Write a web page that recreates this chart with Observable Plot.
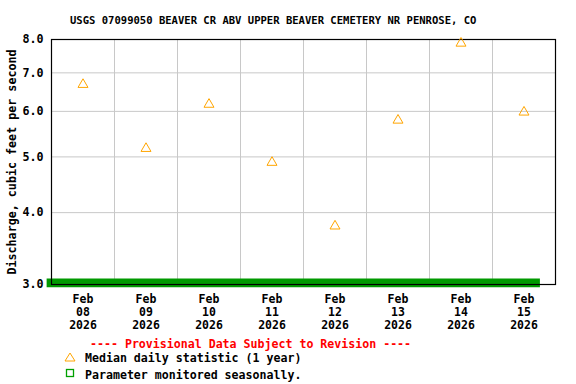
<!DOCTYPE html>
<html>
<head>
<meta charset="utf-8">
<script src="https://cdn.jsdelivr.net/npm/d3@7"></script>
<script src="https://cdn.jsdelivr.net/npm/@observablehq/plot@0.6"></script>
<style>
  html, body { margin: 0; padding: 0; background: white; }
  #wrap { position: relative; width: 576px; height: 384px; overflow: hidden; font-family: "DejaVu Sans Mono", monospace; font-weight: bold; color: black; }
  .abs { position: absolute; white-space: pre; }
  #title { left: 70px; top: 14px; font-size: 10.55px; line-height: 12px; }
  #chart { position: absolute; left: 0; top: 28px; }
  #prov { left: 90px; top: 337.5px; font-size: 11.6px; line-height: 13px; color: #ff0000; }
  .leg { left: 85px; font-size: 11.6px; line-height: 13px; }
  .sym { position: absolute; }
</style>
</head>
<body>
<div id="wrap">
  <div id="title" class="abs"></div>
  <div id="chart"></div>
  <div id="prov" class="abs"></div>
  <svg class="sym" style="left:64px;top:350.5px" width="14" height="12"><polygon points="6,2 11,10 1,10" fill="none" stroke="#ffa500" stroke-width="1"/></svg>
  <div id="leg1" class="abs leg" style="top:352px"></div>
  <svg class="sym" style="left:64px;top:367px" width="14" height="12"><rect x="2.5" y="2.5" width="7" height="7" fill="none" stroke="#00a000" stroke-width="1.3"/></svg>
  <div id="leg2" class="abs leg" style="top:368.5px"></div>
</div>
<script>
// ---- data ----
const titleText = "USGS 07099050 BEAVER CR ABV UPPER BEAVER CEMETERY NR PENROSE, CO";
const yLabel = "Discharge, cubic feet per second";
const days = ["2026-02-08","2026-02-09","2026-02-10","2026-02-11","2026-02-12","2026-02-13","2026-02-14","2026-02-15"];
const medianValues = [6.68, 5.17, 6.17, 4.89, 3.79, 5.79, 7.88, 5.98];
const yTicks = [3, 4, 5, 6, 7, 8];
const seasonStart = "2026-02-07T22:20Z";
const seasonEnd = "2026-02-15T18:15Z";
const xStartDay = "2026-02-08";
const xEndDay = "2026-02-16";
const provisionalText = "---- Provisional Data Subject to Revision ----";
const legendMedian = "Median daily statistic (1 year)";
const legendSeasonal = "Parameter monitored seasonally.";

// ---- derived ----
const noon = s => new Date(s + "T12:00:00Z");
const midnight = s => new Date(s + "T00:00:00Z");
const data = days.map((d, i) => ({date: noon(d), value: medianValues[i]}));
const tickDates = days.map(noon);
const gridDates = days.slice(1).map(midnight);
const fmt = d3.utcFormat("%b\n%d\n%Y");

document.getElementById("title").textContent = titleText;
document.getElementById("prov").textContent = provisionalText;
document.getElementById("leg1").textContent = legendMedian;
document.getElementById("leg2").textContent = legendSeasonal;

const chart = Plot.plot({
  width: 576,
  height: 302,
  marginTop: 11,
  marginLeft: 51,
  marginRight: 21,
  marginBottom: 46,
  style: {fontFamily: "DejaVu Sans Mono", fontWeight: "bold", fontSize: "11.5px", color: "black", background: "white", overflow: "visible"},
  x: {type: "utc", domain: [midnight(xStartDay), midnight(xEndDay)]},
  y: {type: "log", domain: [3, 8]},
  marks: [
    Plot.gridY(yTicks, {stroke: "#c8c8c8", strokeOpacity: 1}),
    Plot.gridX(gridDates, {stroke: "#c8c8c8", strokeOpacity: 1}),
    Plot.axisY(yTicks, {tickSize: 0, tickPadding: 8, tickFormat: d => d.toFixed(1), label: yLabel, labelAnchor: "center", labelArrow: "none", labelOffset: 44, fontSize: 11.7}),
    Plot.axisX(tickDates, {tickSize: 0, tickPadding: 9, tickFormat: fmt, lineHeight: 1.13, label: null}),
    Plot.ruleY([3], {x1: () => new Date(seasonStart), x2: () => new Date(seasonEnd), stroke: "#009900", strokeWidth: 8.7, dy: -1.7}),
    Plot.frame({stroke: "black", strokeWidth: 1.2}),
    Plot.dot(data, {x: "date", y: "value", symbol: "triangle", stroke: "#ffa500", fill: "none", r: 3.7, strokeWidth: 1})
  ]
});
document.getElementById("chart").appendChild(chart);
</script>
</body>
</html>
